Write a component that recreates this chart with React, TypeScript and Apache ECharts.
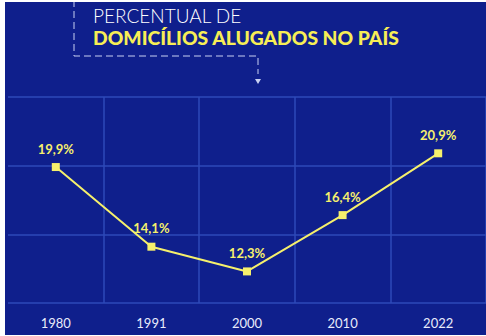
import React, { useEffect, useRef } from "react";
import * as echarts from "echarts";

const years = ["1980", "1991", "2000", "2010", "2022"];
const values = [19.9, 14.1, 12.3, 16.4, 20.9];
const titleLine1 = "PERCENTUAL DE";
const titleLine2 = "DOMICÍLIOS ALUGADOS NO PAÍS";

const BG = "#0f1f8c";
const GRID = "#2e4ab8";
const YELLOW = "#f6f06c";
const DASH = "#c9d1f2";

export default function App() {
  const ref = useRef<HTMLDivElement>(null);
  useEffect(() => {
    if (!ref.current) return;
    const chart = echarts.init(ref.current, undefined, { renderer: "svg" });
    chart.setOption({
      animation: false,
      backgroundColor: BG,
      grid: { left: 3, top: 95, width: 482, bottom: 32, containLabel: false },
      xAxis: {
        type: "category",
        data: years,
        boundaryGap: true,
        axisLine: { show: false },
        axisTick: { show: false },
        axisLabel: {
          color: "#e9ecfb",
          fontFamily: "Lato",
          fontSize: 13,
          margin: 13,
        },
        splitLine: {
          show: true,
          interval: (idx: number) => idx !== 0,
          lineStyle: { color: GRID, width: 1.5 },
        },
      },
      yAxis: {
        type: "value",
        min: 10,
        max: 25,
        interval: 5,
        axisLabel: { show: false },
        axisLine: { show: false },
        axisTick: { show: false },
        splitLine: { show: true, lineStyle: { color: GRID, width: 1.5 } },
      },
      series: [
        {
          type: "line",
          data: values,
          symbol: "rect",
          symbolSize: 8,
          lineStyle: { color: YELLOW, width: 2 },
          itemStyle: { color: YELLOW },
          label: {
            show: true,
            position: "top",
            distance: 8,
            color: YELLOW,
            fontFamily: "Lato",
            fontWeight: "bold",
            fontSize: 13,
            formatter: (p: any) => String(p.value).replace(".", ",") + "%",
          },
        },
      ],
      graphic: [
        {
          type: "polyline",
          shape: { points: [[69, -2], [69, 54], [253, 54], [253, 72]] },
          style: { stroke: DASH, lineWidth: 1, lineDash: [7, 4], fill: null },
        },
        {
          type: "polygon",
          shape: { points: [[250, 77], [256, 77], [253, 82]] },
          style: { fill: DASH },
        },
        {
          type: "text",
          left: 88,
          top: 4,
          style: {
            text: titleLine1,
            fill: "#ffffff",
            fontFamily: "Lato",
            fontSize: 19,
            fontWeight: 300,
          },
        },
        {
          type: "text",
          left: 88,
          top: 26,
          style: {
            text: titleLine2,
            fill: "#f7ee55",
            fontFamily: "Lato",
            fontSize: 19.3,
            fontWeight: 900,
            shadowColor: "rgba(255,240,80,0.5)",
            shadowBlur: 4,
          },
        },
      ],
    });
    return () => chart.dispose();
  }, []);
  return (
    <div
      ref={ref}
      style={{ position: "absolute", left: 5, top: 2, width: 481, height: 333 }}
    />
  );
}
